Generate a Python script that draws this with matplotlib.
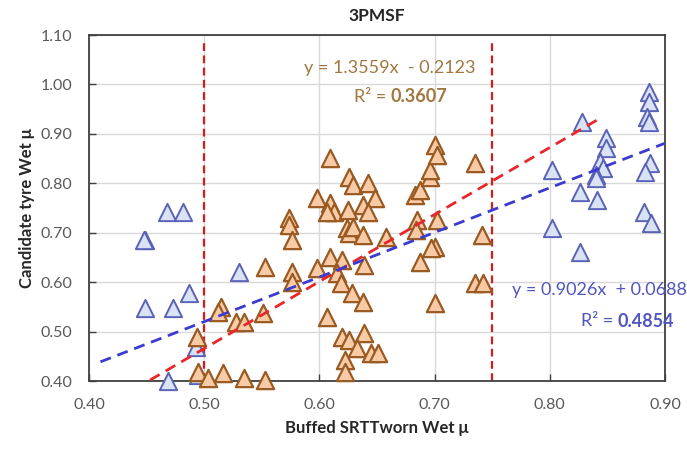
import numpy as np
import matplotlib.pyplot as plt

plt.rcParams['font.family'] = ['Lato', 'DejaVu Sans']

# candidate tyre points split by SRTT band
blue_x = [0.449, 0.468, 0.482, 0.448, 0.530, 0.487, 0.449, 0.473, 0.493, 0.469, 0.495,
          0.828, 0.886, 0.886, 0.884, 0.886, 0.849, 0.849, 0.844, 0.846, 0.840, 0.840,
          0.802, 0.887, 0.883, 0.826, 0.841, 0.882, 0.888, 0.802, 0.826]
blue_y = [0.685, 0.742, 0.742, 0.685, 0.621, 0.578, 0.548, 0.548, 0.469, 0.400, 0.412,
          0.924, 0.985, 0.965, 0.935, 0.925, 0.892, 0.872, 0.843, 0.831, 0.817, 0.811,
          0.827, 0.841, 0.823, 0.783, 0.766, 0.742, 0.720, 0.710, 0.661]

orange_x = [0.515, 0.512, 0.494, 0.528, 0.535, 0.495, 0.503, 0.516, 0.535, 0.553, 0.551,
            0.609, 0.626, 0.629, 0.642, 0.648, 0.598, 0.609, 0.613, 0.607, 0.625, 0.638,
            0.642, 0.574, 0.574, 0.576, 0.624, 0.626, 0.629, 0.638, 0.658, 0.553, 0.576,
            0.576, 0.598, 0.609, 0.620, 0.615, 0.619, 0.639, 0.628, 0.638, 0.607, 0.620,
            0.626, 0.639, 0.633, 0.645, 0.651, 0.622, 0.622, 0.683, 0.687, 0.696, 0.696,
            0.700, 0.702, 0.685, 0.684, 0.702, 0.700, 0.697, 0.687, 0.700, 0.735, 0.741,
            0.735, 0.742]
orange_y = [0.550, 0.540, 0.489, 0.520, 0.520, 0.418, 0.406, 0.416, 0.406, 0.402, 0.538,
            0.851, 0.813, 0.797, 0.801, 0.770, 0.770, 0.760, 0.742, 0.742, 0.746, 0.756,
            0.742, 0.730, 0.716, 0.685, 0.710, 0.700, 0.712, 0.696, 0.691, 0.631, 0.621,
            0.600, 0.629, 0.651, 0.645, 0.619, 0.598, 0.635, 0.578, 0.560, 0.530, 0.489,
            0.483, 0.497, 0.467, 0.457, 0.457, 0.442, 0.418, 0.777, 0.787, 0.813, 0.827,
            0.878, 0.858, 0.726, 0.706, 0.726, 0.671, 0.669, 0.641, 0.558, 0.841, 0.696,
            0.598, 0.598]

# trendline coefficients as printed on the chart
orange_fit = (1.3559, -0.2123, 0.3607)
blue_fit = (0.9026, 0.0688, 0.4854)
band_edges = [0.50, 0.75]

fig = plt.figure(figsize=(6.87, 4.49), dpi=100)
ax = fig.add_axes([0.1295, 0.1514, 0.8385, 0.7706])

ax.scatter(blue_x, blue_y, marker='^', s=155, facecolor='#dae3f3',
           edgecolor='#5a62b8', linewidth=1.4, zorder=3, clip_on=False)
ax.scatter(orange_x, orange_y, marker='^', s=155, facecolor='#f8cba6',
           edgecolor='#9a5a22', linewidth=1.6, zorder=4, clip_on=False)

xr = np.array([0.453, 0.842])
ax.plot(xr, orange_fit[0] * xr + orange_fit[1], '--', color='#e8262b', lw=2, dashes=(4, 2.5), zorder=5)
xb = np.array([0.41, 0.90])
ax.plot(xb, blue_fit[0] * xb + blue_fit[1], '--', color='#3b3bd0', lw=2, dashes=(4, 2.5), zorder=5)

for xv in band_edges:
    ax.plot([xv, xv], [0.40, 1.085], '--', color='#d41c1c', lw=1.6, dashes=(3.5, 2), zorder=2)

ocol = '#a0773e'
bcol = '#5055c0'
ax.text(0.661, 1.034, 'y = %.4fx  - %.4f' % (orange_fit[0], -orange_fit[1]),
        ha='center', va='center', color=ocol, fontsize=13)
ax.text(0.662, 0.975, 'R² = ', ha='right', va='center', color=ocol, fontsize=13)
ax.text(0.662, 0.975, '%.4f' % orange_fit[2], ha='left', va='center', color=ocol,
        fontsize=13, fontweight='bold')

ax.text(0.843, 0.584, 'y = %.4fx  + %.4f' % blue_fit[:2],
        ha='center', va='center', color=bcol, fontsize=13, clip_on=False)
ax.text(0.859, 0.521, 'R² = ', ha='right', va='center', color=bcol, fontsize=13)
ax.text(0.859, 0.521, '%.4f' % blue_fit[2], ha='left', va='center', color=bcol,
        fontsize=13, fontweight='bold')

ax.set_xlim(0.40, 0.90)
ax.set_ylim(0.40, 1.10)
ax.set_xticks(np.arange(0.40, 0.901, 0.10))
ax.set_yticks(np.arange(0.40, 1.101, 0.10))
ax.xaxis.set_major_formatter(plt.FormatStrFormatter('%.2f'))
ax.yaxis.set_major_formatter(plt.FormatStrFormatter('%.2f'))
ax.tick_params(direction='in', length=5, width=1, colors='#404040',
               labelcolor='#595959', labelsize=11.5, pad=12)
ax.grid(True, color='#d9d9d9', lw=1)
ax.set_axisbelow(True)
for sp in ax.spines.values():
    sp.set_color('#404040')
    sp.set_linewidth(1.3)

ax.set_title('3PMSF', fontsize=12.5, fontweight='bold', color='#262626', pad=10)
ax.set_xlabel('Buffed SRTTworn Wet μ', fontsize=12, fontweight='bold', color='#262626', labelpad=6)
ax.set_ylabel('Candidate tyre Wet μ', fontsize=12, fontweight='bold', color='#262626', labelpad=4)

fig.savefig('out.png', dpi=100)
